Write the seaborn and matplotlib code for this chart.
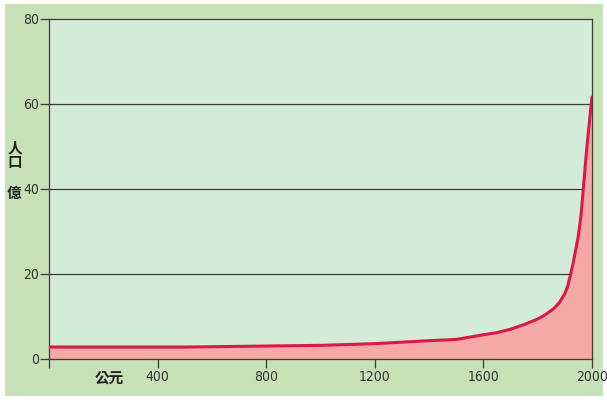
import matplotlib
matplotlib.use("Agg")
import matplotlib.pyplot as plt
from matplotlib.patches import Rectangle
import seaborn as sns
import pandas as pd

# world population (億) by year
years = [0, 500, 1000, 1200, 1400, 1500, 1600, 1650, 1700, 1750, 1800, 1830, 1860, 1880,
         1900, 1910, 1920, 1930, 1940, 1950, 1960, 1968, 1980, 1990, 2000]
population = [2.7, 2.7, 3.1, 3.5, 4.2, 4.5, 5.6, 6.1, 6.9, 8.0, 9.3, 10.4, 11.8, 13.2,
              15.3, 16.9, 19.5, 22.3, 25.6, 29.0, 34.0, 40.0, 49.0, 55.5, 61.6]
xticks = [0, 400, 800, 1200, 1600, 2000]
xticklabels = ["", "400", "800", "1200", "1600", "2000"]
yticks = [0, 20, 40, 60, 80]

df = pd.DataFrame({"year": years, "pop": population})

sns.set_theme(style="white")
plt.rcParams['font.family'] = ['DejaVu Sans']
plt.rcParams['font.stretch'] = 'condensed'

fig = plt.figure(figsize=(6.07, 4.04), dpi=100)
fig.patch.set_facecolor("white")
bg = fig.add_axes([0, 0, 1, 1], zorder=-10)
bg.axis("off")
bg.add_patch(Rectangle((5/607, 8/404), 598/607, 392/404, transform=bg.transAxes,
                       facecolor="#c6e2b6", edgecolor="none"))

ax = fig.add_axes([49/607, 1 - 358.5/404, 543/607, 339.5/404])
ax.set_facecolor("#d3ecd8")

ax.fill_between(df["year"], df["pop"], 0, color="#f6a8a6", zorder=2)
sns.lineplot(data=df, x="year", y="pop", color="#dd1847", linewidth=2.2, ax=ax, zorder=3)

for v in [20, 40, 60]:
    ax.axhline(v, color="#3c3c3c", linewidth=0.9, zorder=1)

ax.set_xlim(0, 2000)
ax.set_ylim(0, 80)
ax.set_xticks(xticks)
ax.set_xticklabels(xticklabels)
ax.set_yticks(yticks)
ax.tick_params(axis="both", direction="out", length=6.5, width=0.9, color="#3c3c3c",
               labelsize=10, labelcolor="#333333", left=True, bottom=True)
ax.tick_params(axis="y", pad=0.5)
ax.tick_params(axis="x", pad=2)
for s in ax.spines.values():
    s.set_color("#3c3c3c")
    s.set_linewidth(0.9)
ax.set_xlabel("")
ax.set_ylabel("")

cjk = ['Noto Sans CJK TC', 'DejaVu Sans']
fig.text(109/607, 1 - 378/404, "公元", family=cjk, fontsize=10.5, fontweight="bold",
         ha="center", va="center", color="#222222")
fig.text(15/607, 1 - 147/404, "人", family=cjk, fontsize=10.5, fontweight="bold",
         ha="center", va="center", color="#222222")
fig.text(15/607, 1 - 162/404, "口", family=cjk, fontsize=10.5, fontweight="bold",
         ha="center", va="center", color="#222222")
fig.text(14/607, 1 - 193/404, "億", family=cjk, fontsize=10.5, fontweight="bold",
         ha="center", va="center", color="#222222")

fig.savefig("out.png", dpi=100)
